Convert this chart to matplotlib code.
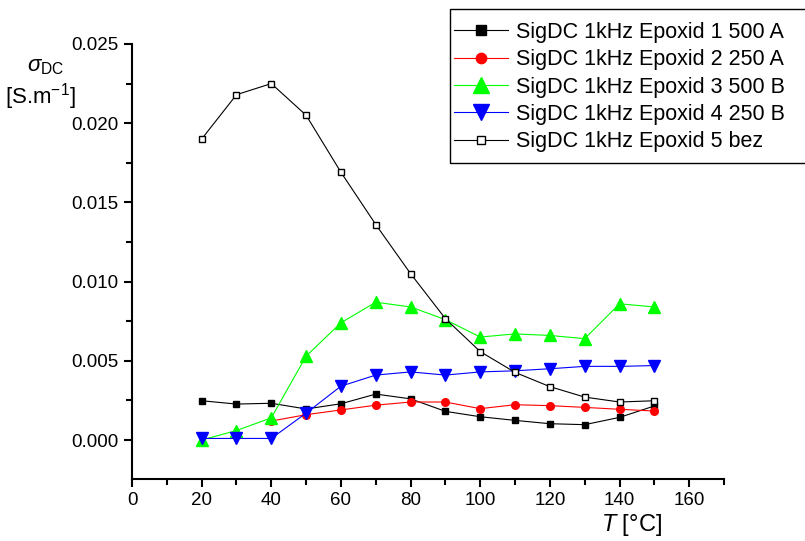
import matplotlib
matplotlib.use("Agg")
import matplotlib.pyplot as plt
from matplotlib.patches import Rectangle
from matplotlib.ticker import MultipleLocator, FormatStrFormatter

plt.rcParams["font.family"] = ["Liberation Sans", "DejaVu Sans"]
plt.rcParams["mathtext.fontset"] = "custom"
plt.rcParams["mathtext.rm"] = "Liberation Sans"
plt.rcParams["mathtext.it"] = "Liberation Sans:italic"

# teplota [°C]
temp = [20, 30, 40, 50, 60, 70, 80, 90, 100, 110, 120, 130, 140, 150]
temp_red = [40, 50, 60, 70, 80, 90, 100, 110, 120, 130, 140, 150]

sig_1_500A = [0.00248, 0.00227, 0.00232, 0.00196, 0.00229, 0.0029, 0.0026,
              0.00181, 0.00147, 0.00124, 0.00103, 0.00097, 0.00143, 0.00215]
sig_2_250A = [0.0012, 0.0016, 0.0019, 0.0022, 0.0024, 0.0024,
              0.00198, 0.00223, 0.00217, 0.00206, 0.00194, 0.00183]
sig_3_500B = [0.0000, 0.0006, 0.0014, 0.0053, 0.0074, 0.0087, 0.0084,
              0.0076, 0.0065, 0.0067, 0.0066, 0.0064, 0.0086, 0.0084]
sig_4_250B = [0.0001, 0.0001, 0.0001, 0.0017, 0.0034, 0.0041, 0.0043,
              0.0041, 0.0043, 0.00437, 0.0045, 0.00465, 0.00465, 0.0047]
sig_5_bez = [0.0190, 0.0218, 0.0225, 0.0205, 0.0169, 0.0136, 0.0105,
             0.00766, 0.00558, 0.00427, 0.00337, 0.00271, 0.0024, 0.00248]

labels = [
    "SigDC 1kHz Epoxid 1 500 A",
    "SigDC 1kHz Epoxid 2 250 A",
    "SigDC 1kHz Epoxid 3 500 B",
    "SigDC 1kHz Epoxid 4 250 B",
    "SigDC 1kHz Epoxid 5 bez",
]

fig = plt.figure(figsize=(8.05, 5.41), dpi=100)
ax = fig.add_axes([0.164, 0.1146, 0.7354, 0.8041])

lw = 0.8
ax.plot(temp, sig_1_500A, color="black", lw=lw, marker="s", ms=5,
        mfc="black", mec="black", label=labels[0])
ax.plot(temp_red, sig_2_250A, color="red", lw=lw, marker="o", ms=5.5,
        mfc="red", mec="red", label=labels[1])
ax.plot(temp, sig_3_500B, color="#00ff00", lw=lw, marker="^", ms=8.5,
        mfc="#00ff00", mec="#00ff00", label=labels[2])
ax.plot(temp, sig_4_250B, color="blue", lw=lw, marker="v", ms=8.5,
        mfc="blue", mec="blue", label=labels[3])
ax.plot(temp, sig_5_bez, color="black", lw=lw, marker="s", ms=4,
        mfc="white", mec="black", mew=1, label=labels[4])

ax.set_xlim(0, 170)
ax.set_ylim(-0.00246, 0.025)
ax.xaxis.set_major_locator(MultipleLocator(20))
ax.xaxis.set_minor_locator(MultipleLocator(10))
ax.yaxis.set_major_locator(MultipleLocator(0.005))
ax.yaxis.set_minor_locator(MultipleLocator(0.0025))
ax.yaxis.set_major_formatter(FormatStrFormatter("%.3f"))

for side in ("top", "right"):
    ax.spines[side].set_visible(False)
for side in ("left", "bottom"):
    ax.spines[side].set_linewidth(1.5)
ax.tick_params(which="major", direction="out", length=6, width=1.5, labelsize=13.5)
ax.tick_params(which="minor", direction="out", length=4, width=1.5)

fig.text(0.785, 0.0185, r"$T$ [°C]", fontsize=17, ha="center", va="baseline")
fig.text(0.057, 0.868, r"$\sigma_{\mathrm{DC}}$", fontsize=16, ha="center", va="baseline")
fig.text(0.05, 0.808, r"[S.m$^{\mathrm{-1}}$]", fontsize=16, ha="center", va="baseline")

# ramecek legendy presahuje pravy okraj obrazku
fig.patches.append(Rectangle((450 / 805, 1 - 163 / 541), 0.5, 154 / 541,
                             transform=fig.transFigure, fill=False,
                             edgecolor="black", lw=1.0, clip_on=False))
leg = fig.legend(loc="upper left", bbox_to_anchor=(454 / 805, 0.96), fontsize=15.5,
                 frameon=False, handlelength=2.5, handletextpad=0.37,
                 labelspacing=0.3, borderpad=0, borderaxespad=0,
                 numpoints=1, markerscale=1.35)

fig.savefig("out.png", dpi=100)
